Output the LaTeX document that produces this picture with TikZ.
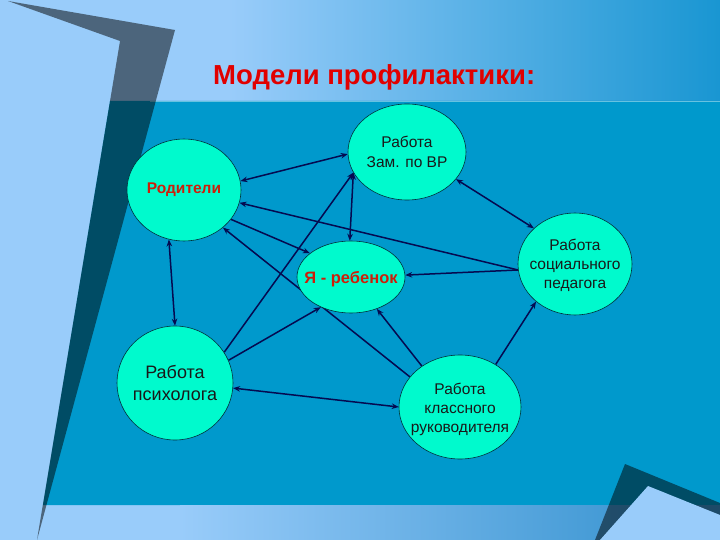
\documentclass[tikz,border=0pt]{standalone}
\usepackage{fontspec}
\setmainfont{Liberation Sans}
\usetikzlibrary{shapes.geometric,arrows.meta}
\definecolor{lightbg}{RGB}{153,204,250}
\definecolor{bandblue}{RGB}{25,150,210}
\definecolor{mainblue}{RGB}{0,153,204}
\definecolor{nodefill}{RGB}{0,250,205}
\definecolor{navyline}{RGB}{5,10,80}
\definecolor{titlered}{RGB}{225,0,0}
\definecolor{nodered}{RGB}{205,30,10}
\definecolor{botblue}{RGB}{60,150,210}
\definecolor{nodeedge}{RGB}{0,50,60}
\pgfdeclarelayer{back}
\pgfdeclarelayer{mid}
\pgfsetlayers{back,mid,main}
\begin{document}
\begin{tikzpicture}[x=1pt,y=-1pt,
  bubble/.style={ellipse, draw=nodeedge, line width=0.6pt, fill=nodefill, inner sep=0pt},
  btext/.style={align=center, text=black!90, inner sep=0pt},
  conn/.style={draw=navyline, line width=1.5pt},
  >={Stealth[length=7pt,width=5.5pt]}]
\useasboundingbox (0,0) rectangle (720,540);
\begin{pgfonlayer}{back}
  \fill[lightbg] (0,0) rectangle (720,540);
  \shade[left color=lightbg, right color=bandblue] (230,0) rectangle (720,101);
  \fill[mainblue] (110,101) -- (720,101) -- (720,505) -- (43,505) -- cycle;
  \draw[white!40!mainblue, line width=0.8pt] (150,101.5) -- (720,101.5);
  \shade[left color=lightbg, right color=botblue] (180,505) rectangle (650,540);
  \fill[botblue] (650,505) rectangle (720,540);
  % bottom-right corner
  \fill[black, opacity=0.5] (625,464) -- (720,503) -- (720,540) -- (595,540) -- cycle;
  \fill[lightbg] (648,486) -- (720,515) -- (720,540) -- (600,540) -- cycle;
  % top-left bar
  \fill[black, opacity=0.5] (8,1) -- (175,30) -- (37,540) -- (120,41) -- cycle;
\end{pgfonlayer}

\node[anchor=base west, inner sep=0pt, text=titlered, font=\fontsize{27.5}{33}\selectfont\bfseries] (title) at (213,85) {Модели профилактики:};

\node[bubble, minimum width=118pt, minimum height=96pt] (vr) at (407,152) {};
\node[bubble, minimum width=114pt, minimum height=102pt] (rod) at (184,190) {};
\node[bubble, minimum width=108pt, minimum height=72pt] (ya) at (351,277) {};
\node[bubble, minimum width=114pt, minimum height=102pt] (soc) at (575,264) {};
\node[bubble, minimum width=116pt, minimum height=114pt] (psy) at (175,383) {};
\node[bubble, minimum width=122pt, minimum height=104pt] (kl) at (460,407) {};

\node[btext, font=\fontsize{15.5}{20}\selectfont] (vrt) at (vr) {Работа\\Зам. по ВР};
\node[btext, text=nodered, font=\fontsize{15.5}{19}\selectfont\bfseries] (rodt) at (rod) {Родители};
\node[btext, text=nodered, font=\fontsize{16.5}{19}\selectfont\bfseries] (yat) at ([yshift=-2pt]ya.center) {Я - ребенок};
\node[btext, font=\fontsize{15.5}{19}\selectfont] (soct) at ([yshift=-1pt]soc.center) {Работа\\социального\\педагога};
\node[btext, font=\fontsize{18}{22}\selectfont] (psyt) at (psy) {Работа\\психолога};
\node[btext, font=\fontsize{15.5}{19}\selectfont] (klt) at ([yshift=-2pt]kl.center) {Работа\\классного\\руководителя};

\begin{pgfonlayer}{mid}
  \draw[conn,<->] (rod.9) -- (vr.182);
  \draw[conn,->] (soc.186) -- (rod.347);
  \draw[conn,->] (rod.328) -- (ya.150);
  \draw[conn,->] (kl.149) -- (rod.316);
  \draw[conn,->] (psy.32) -- (vr.201);
  \draw[conn,<->] (vr.201) -- (ya.92);
  \draw[conn,->] (psy.23) -- (ya.225);
  \draw[conn,->] (kl.133) -- (ya.309);
  \draw[conn,->] (soc.186) -- (ya.2);
  \draw[conn,<->] (vr.331) -- (soc.139);
  \draw[conn,->] (kl.50) -- (soc.224);
  \draw[conn,<->] (psy.90) -- (rod.253);
  \draw[conn,<->] (psy.355) -- (kl.180);
\end{pgfonlayer}
\end{tikzpicture}
\end{document}
